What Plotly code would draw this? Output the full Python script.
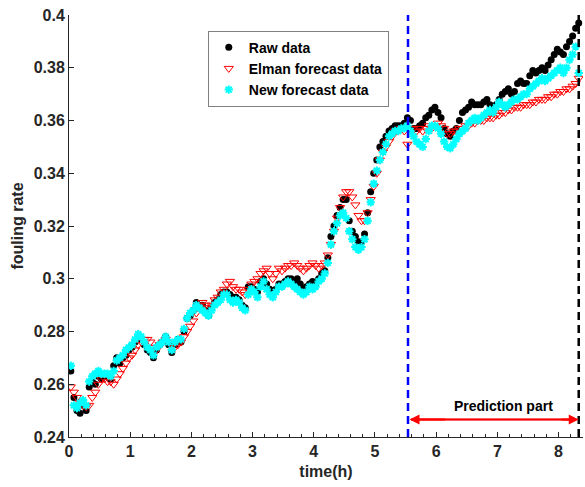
import plotly.graph_objects as go

t_start = 0.03
t_step = 0.05

raw_data = [
    0.265, 0.255, 0.250, 0.249, 0.252, 0.250, 0.259, 0.261, 0.260, 0.263,
    0.262, 0.263, 0.263, 0.262, 0.267, 0.270, 0.268, 0.270, 0.271, 0.273,
    0.274, 0.276, 0.278, 0.277, 0.275, 0.273, 0.272, 0.270, 0.273, 0.275,
    0.276, 0.278, 0.275, 0.272, 0.275, 0.277, 0.276, 0.280, 0.285, 0.286,
    0.288, 0.291, 0.290, 0.290, 0.288, 0.286, 0.289, 0.291, 0.292, 0.294,
    0.295, 0.295, 0.294, 0.293, 0.293, 0.292, 0.290, 0.289, 0.297, 0.297,
    0.296, 0.295, 0.299, 0.300, 0.298, 0.296, 0.295, 0.296, 0.298, 0.298,
    0.299, 0.300, 0.300, 0.299, 0.300, 0.298, 0.296, 0.297, 0.298, 0.299,
    0.298, 0.300, 0.302, 0.303, 0.308, 0.316, 0.320, 0.324, 0.327, 0.330,
    0.330, 0.322, 0.318, 0.316, 0.314, 0.314, 0.317, 0.325, 0.333, 0.340,
    0.345, 0.350, 0.352, 0.354, 0.356, 0.357, 0.358, 0.358, 0.358, 0.359,
    0.361, 0.360, 0.357, 0.357, 0.358, 0.359, 0.361, 0.362, 0.364, 0.365,
    0.363, 0.361, 0.357, 0.355, 0.354, 0.356, 0.357, 0.360, 0.363, 0.364,
    0.365, 0.367, 0.366, 0.366, 0.366, 0.367, 0.368, 0.366, 0.364, 0.366,
    0.368, 0.370, 0.371, 0.372, 0.370, 0.371, 0.374, 0.375, 0.374, 0.374,
    0.377, 0.379, 0.378, 0.379, 0.380, 0.379, 0.381, 0.383, 0.385, 0.387,
    0.386, 0.385, 0.388, 0.390, 0.392, 0.395, 0.397,
]

elman_forecast = [
    0.259, 0.257, 0.255, 0.253, 0.252, 0.2515, 0.252, 0.255, 0.257, 0.260,
    0.262, 0.262, 0.261, 0.261, 0.260, 0.262, 0.264, 0.266, 0.268, 0.270,
    0.271, 0.273, 0.275, 0.276, 0.277, 0.277, 0.276, 0.274, 0.273, 0.275,
    0.276, 0.277, 0.276, 0.275, 0.274, 0.275, 0.276, 0.278, 0.280, 0.282,
    0.284, 0.287, 0.290, 0.291, 0.290, 0.289, 0.290, 0.292, 0.293, 0.295,
    0.296, 0.298, 0.299, 0.297, 0.296, 0.296, 0.295, 0.294, 0.296, 0.298,
    0.299, 0.300, 0.302, 0.303, 0.304, 0.302, 0.300, 0.302, 0.304, 0.303,
    0.304, 0.305, 0.305, 0.306, 0.305, 0.304, 0.303, 0.304, 0.305, 0.306,
    0.305, 0.304, 0.305, 0.306, 0.309, 0.313, 0.318, 0.323, 0.327, 0.331,
    0.333, 0.333, 0.331, 0.328, 0.324, 0.322, 0.322, 0.325, 0.330, 0.335,
    0.340, 0.345, 0.348, 0.350, 0.352, 0.354, 0.356, 0.356, 0.357, 0.356,
    0.351, 0.357, 0.357, 0.356, 0.357, 0.356, 0.357, 0.358, 0.357, 0.358,
    0.359, 0.358, 0.357, 0.355, 0.355, 0.356, 0.356, 0.357, 0.357, 0.358,
    0.358, 0.359, 0.359, 0.360, 0.360, 0.360, 0.361, 0.361, 0.361, 0.362,
    0.362, 0.363, 0.363, 0.364, 0.364, 0.365, 0.365, 0.365, 0.366, 0.366,
    0.366, 0.367, 0.367, 0.368, 0.368, 0.368, 0.369, 0.369, 0.370, 0.370,
    0.371, 0.371, 0.372, 0.372, 0.373, 0.374, 0.376,
]

new_forecast = [
    0.267, 0.252, 0.251, 0.253, 0.254, 0.252, 0.261, 0.263, 0.264, 0.265,
    0.264, 0.264, 0.264, 0.263, 0.265, 0.269, 0.270, 0.271, 0.273, 0.274,
    0.275, 0.277, 0.279, 0.278, 0.276, 0.274, 0.273, 0.271, 0.274, 0.275,
    0.276, 0.278, 0.276, 0.273, 0.276, 0.277, 0.277, 0.281, 0.285, 0.287,
    0.288, 0.290, 0.289, 0.288, 0.287, 0.286, 0.288, 0.290, 0.291, 0.292,
    0.294, 0.294, 0.292, 0.291, 0.292, 0.291, 0.289, 0.288, 0.294, 0.296,
    0.295, 0.293, 0.297, 0.299, 0.296, 0.294, 0.293, 0.295, 0.297, 0.297,
    0.298, 0.299, 0.298, 0.297, 0.296, 0.295, 0.294, 0.295, 0.297, 0.296,
    0.297, 0.299, 0.300, 0.302, 0.306, 0.313, 0.318, 0.321, 0.324, 0.325,
    0.323, 0.318, 0.315, 0.312, 0.311, 0.312, 0.315, 0.322, 0.329, 0.336,
    0.341, 0.345, 0.348, 0.351, 0.354, 0.355, 0.356, 0.356, 0.357, 0.357,
    0.358, 0.356, 0.354, 0.352, 0.351, 0.350, 0.353, 0.356, 0.358, 0.358,
    0.357, 0.355, 0.352, 0.350, 0.3495, 0.351, 0.353, 0.355, 0.356, 0.357,
    0.359, 0.360, 0.361, 0.360, 0.361, 0.362, 0.363, 0.364, 0.363, 0.365,
    0.367, 0.366, 0.365, 0.366, 0.367, 0.368, 0.368, 0.369, 0.370, 0.370,
    0.372, 0.373, 0.374, 0.375, 0.376, 0.375, 0.376, 0.377, 0.378, 0.379,
    0.380, 0.378, 0.380, 0.383, 0.385, 0.388, 0.378,
]

time_h = [round(t_start + t_step * i, 3) for i in range(len(raw_data))]

split_time = 5.54
end_time = 8.33
y_ticks = [0.24, 0.26, 0.28, 0.30, 0.32, 0.34, 0.36, 0.38, 0.40]
y_tick_text = ["0.24", "0.26", "0.28", "0.3", "0.32", "0.34", "0.36", "0.38", "0.4"]
x_ticks = [0, 1, 2, 3, 4, 5, 6, 7, 8]

FONT = "Liberation Sans, Arial, sans-serif"
DARK = "#262626"

fig = go.Figure()
fig.add_trace(go.Scatter(
    x=time_h, y=raw_data, mode="markers", name="Raw data",
    marker=dict(symbol="circle", size=7, color="black", line=dict(width=0)),
))
fig.add_trace(go.Scatter(
    x=time_h, y=elman_forecast, mode="markers", name="Elman forecast data",
    marker=dict(symbol="triangle-down-open", size=8, color="red", line=dict(width=1, color="red")),
))
fig.add_trace(go.Scatter(
    x=time_h, y=new_forecast, mode="markers", name="New forecast data",
    marker=dict(symbol="asterisk-open", size=7, color="cyan", line=dict(width=2, color="cyan")),
))

# vertical dashed lines
fig.add_shape(type="line", xref="x", yref="y", x0=split_time, x1=split_time, y0=0.24, y1=0.4,
              line=dict(color="blue", width=2.5, dash="8px,5px"))
fig.add_shape(type="line", xref="x", yref="y", x0=end_time, x1=end_time, y0=0.24, y1=0.4,
              line=dict(color="black", width=2.5, dash="8px,5px"))

# prediction part arrow
arrow_y = 0.2466
fig.add_shape(type="line", xref="x", yref="y", x0=split_time + 0.05, x1=end_time - 0.05,
              y0=arrow_y, y1=arrow_y, line=dict(color="#f08080", width=2))
fig.add_annotation(x=end_time, y=arrow_y, ax=split_time, ay=arrow_y, xref="x", yref="y",
                   axref="x", ayref="y", text="", showarrow=True, arrowhead=2,
                   arrowside="end+start", arrowsize=1, arrowwidth=2, arrowcolor="red")
fig.add_shape(type="line", xref="x", yref="y", x0=split_time + 0.05, x1=6.15,
              y0=arrow_y, y1=arrow_y, line=dict(color="red", width=2))
fig.add_shape(type="line", xref="x", yref="y", x0=8.05, x1=end_time - 0.05,
              y0=arrow_y, y1=arrow_y, line=dict(color="red", width=2))
fig.add_annotation(x=7.1, y=0.2519, xref="x", yref="y", text="<b>Prediction part</b>",
                   showarrow=False, font=dict(family=FONT, size=14, color="black"))

fig.update_layout(
    width=585, height=487,
    margin=dict(l=69, r=2, t=15, b=50),
    paper_bgcolor="white", plot_bgcolor="white",
    font=dict(family=FONT, size=15, color=DARK),
    showlegend=True,
    legend=dict(
        x=0.27, y=0.963, xanchor="left", yanchor="top",
        bgcolor="white", bordercolor="#808080", borderwidth=1,
        font=dict(family=FONT, size=14, color="black", weight="bold"),
        tracegroupgap=0,
    ),
)
fig.update_xaxes(
    range=[0, 8.4], tickvals=x_ticks, ticks="inside", ticklen=5, tickwidth=1,
    tickcolor=DARK, showline=True, linecolor=DARK, linewidth=1, showgrid=False,
    zeroline=False, mirror=False,
    tickfont=dict(family=FONT, size=16, color=DARK, weight="bold"),
    title=dict(text="time(h)", font=dict(family=FONT, size=16, color=DARK, weight="bold"), standoff=6),
    minor=dict(ticks="inside", dtick=0.2, tick0=0, ticklen=3, tickcolor=DARK, showgrid=False),
)
fig.update_yaxes(
    range=[0.24, 0.4], tickvals=y_ticks, ticktext=y_tick_text, ticks="inside", ticklen=5,
    tickwidth=1, tickcolor=DARK, showline=True, linecolor=DARK, linewidth=1, showgrid=False,
    zeroline=False, mirror=False,
    tickfont=dict(family=FONT, size=16, color=DARK, weight="bold"),
    title=dict(text="fouling rate", font=dict(family=FONT, size=16, color=DARK, weight="bold"), standoff=6),
)

fig.write_html("out.html")
